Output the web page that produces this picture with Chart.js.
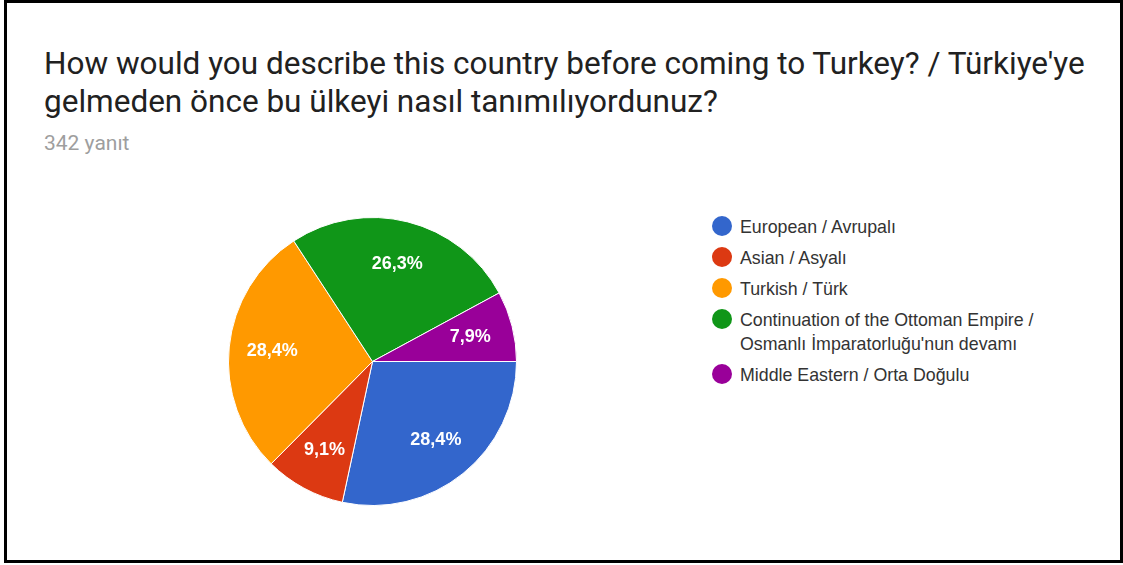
<!DOCTYPE html>
<html>
<head>
<meta charset="utf-8">
<script src="https://cdn.jsdelivr.net/npm/chart.js@4"></script>
<style>
  html, body { margin: 0; padding: 0; background: #fff; }
  body { width: 1123px; height: 565px; position: relative; overflow: hidden; }
  #frame { position: absolute; left: 4px; top: 0; width: 1113px; height: 557px; border: 3px solid #000; }
  #title { position: absolute; left: 44px; top: 45px; font-family: Roboto, sans-serif; font-size: 31.5px; line-height: 38px; color: #212121; white-space: nowrap; }
  #count { position: absolute; left: 44px; top: 133px; font-family: Roboto, sans-serif; font-size: 21px; line-height: 21px; color: #9e9e9e; }
  #pieBox { position: absolute; left: 226px; top: 215px; width: 293px; height: 293px; }
  #legend { position: absolute; left: 712px; top: 215px; font-family: "Liberation Sans", Arial, sans-serif; font-size: 17.8px; color: #333; }
  .item { position: relative; padding-left: 28px; line-height: 24px; margin-bottom: 7px; white-space: nowrap; }
  .dot { position: absolute; left: 0; top: 1px; width: 20px; height: 20px; border-radius: 50%; }
</style>
</head>
<body>
<div id="frame"></div>
<div id="title">How would you describe this country before coming to Turkey? / Türkiye'ye<br>gelmeden önce bu ülkeyi nasıl tanımılıyordunuz?</div>
<div id="count">342 yanıt</div>
<div id="pieBox"><canvas id="pie" width="293" height="293"></canvas></div>
<div id="legend"></div>
<script>
const categories = [
  ["European / Avrupalı"],
  ["Asian / Asyalı"],
  ["Turkish / Türk"],
  ["Continuation of the Ottoman Empire /", "Osmanlı İmparatorluğu'nun devamı"],
  ["Middle Eastern / Orta Doğulu"]
];
const responses = [97, 31, 97, 90, 27];
const percentLabels = ["28,4%", "9,1%", "28,4%", "26,3%", "7,9%"];
const colors = ["#3366cc", "#dc3912", "#ff9900", "#109618", "#990099"];

// legend
const legend = document.getElementById("legend");
categories.forEach((lines, i) => {
  const div = document.createElement("div");
  div.className = "item";
  const dot = document.createElement("span");
  dot.className = "dot";
  dot.style.background = colors[i];
  div.appendChild(dot);
  div.appendChild(document.createTextNode(lines[0]));
  for (let k = 1; k < lines.length; k++) {
    div.appendChild(document.createElement("br"));
    div.appendChild(document.createTextNode(lines[k]));
  }
  legend.appendChild(div);
});

// slice labels drawn at the middle of each arc
const sliceLabels = {
  id: "sliceLabels",
  afterDatasetsDraw(chart) {
    const ctx = chart.ctx;
    const meta = chart.getDatasetMeta(0);
    ctx.save();
    ctx.fillStyle = "#fff";
    ctx.font = "bold 18px 'Liberation Sans', Arial, sans-serif";
    ctx.textAlign = "center";
    ctx.textBaseline = "middle";
    meta.data.forEach((arc, i) => {
      const p = arc.getProps(["x", "y", "startAngle", "endAngle", "outerRadius"]);
      const mid = (p.startAngle + p.endAngle) / 2;
      const r = p.outerRadius * 0.7;
      ctx.fillText(percentLabels[i], p.x + Math.cos(mid) * r, p.y + Math.sin(mid) * r);
    });
    ctx.restore();
  }
};

new Chart(document.getElementById("pie"), {
  type: "pie",
  data: {
    labels: categories.map(l => l.join(" ")),
    datasets: [{
      data: responses,
      backgroundColor: colors,
      borderColor: "#fff",
      borderWidth: 1
    }]
  },
  options: {
    responsive: false,
    animation: false,
    rotation: 90,
    layout: { padding: 2 },
    plugins: {
      legend: { display: false },
      tooltip: { enabled: false }
    }
  },
  plugins: [sliceLabels]
});
</script>
</body>
</html>
